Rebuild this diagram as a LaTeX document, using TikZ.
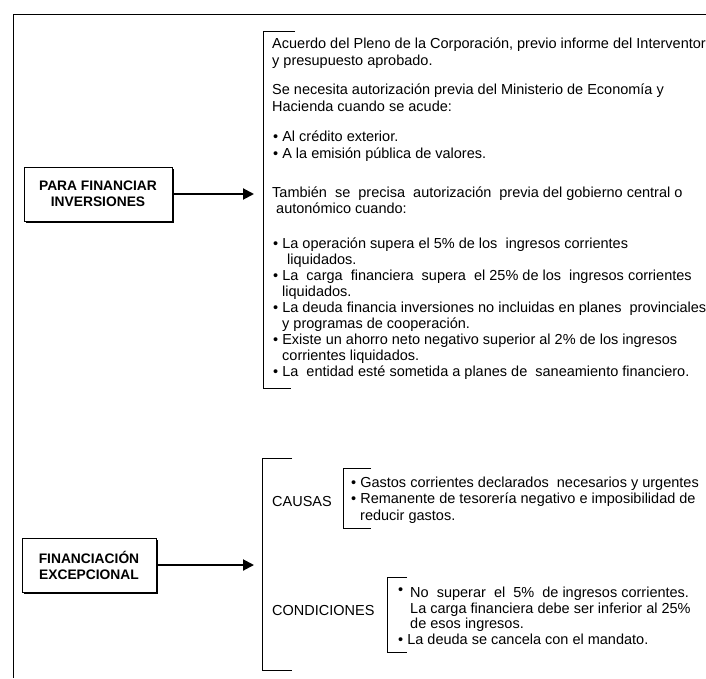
\documentclass[tikz,border=0pt]{standalone}
\usepackage{fontspec}
\setmainfont{Liberation Sans}
\usetikzlibrary{arrows.meta,shadows}
\newcommand\txf{\fontsize{14.5}{16}\selectfont}
\newcommand\bxf{\bfseries\fontsize{13.8}{16}\selectfont}
\newcommand\bul{\textbullet\ }
\tikzset{
  ln/.style={anchor=base west, inner sep=0pt, font=\txf},
  lbox/.style={draw, fill=white, line width=0.8pt, font=\bxf, align=center,
    minimum height=54pt, drop shadow={shadow xshift=1.6pt, shadow yshift=-1.6pt, opacity=1, fill=black}},
  arr/.style={line width=2pt, -{Triangle[length=11pt,width=11pt]}},
  brk/.style={line width=0.8pt},
  frm/.style={line width=0.9pt}
}
\begin{document}
\begin{tikzpicture}[x=1pt,y=-1pt]
\useasboundingbox (0,0) rectangle (706,678);
% outer frame
\draw[frm] (706,14) -- (13,14) -- (13,678);

% boxes
\node[lbox, minimum width=148pt] (b1) at (98,194) {PARA FINANCIAR\\INVERSIONES};
\node[lbox, minimum width=134pt] (b2) at (89,565) {FINANCIACIÓN\\EXCEPCIONAL};
\coordinate (t1) at (254,194);
\coordinate (t2) at (254,565);
\draw[arr] (b1.east) -- (t1);
\draw[arr] (b2.east) -- (t2);

% bracket 1
\draw[brk] (295,31.5) -- (263,31.5) -- (263,388) -- (291,388);
\node[ln] (l1) at (272,48.5) {Acuerdo del Pleno de la Corporación, previo informe del Interventor};
\node[ln] (l2) at (272,65) {y presupuesto aprobado.};
\node[ln] (l3) at (272,94.5) {Se necesita autorización previa del Ministerio de Economía y};
\node[ln] (l4) at (272,111) {Hacienda cuando se acude:};
\node[ln] (l5) at (273,141.5) {\bul Al crédito exterior.};
\node[ln] (l6) at (273,158) {\bul A la emisión pública de valores.};
\node[ln] (l7) at (272,197) {También\ \ se\ \ precisa\ \ autorización\ \ previa del gobierno central o};
\node[ln] (l8) at (276,213.5) {autonómico cuando:};
\node[ln] (l9) at (273,248) {\bul La operación supera el 5\% de los\ \ ingresos corrientes};
\node[ln] (l10) at (287,264) {liquidados.};
\node[ln] (l11) at (273,280) {\bul La\ \ carga\ \ financiera\ \ supera\ \ el 25\% de los\ \ ingresos corrientes};
\node[ln] (l12) at (282,296) {liquidados.};
\node[ln] (l13) at (273,312) {\bul La deuda financia inversiones no incluidas en planes\ \ provinciales};
\node[ln] (l14) at (282,328) {y programas de cooperación.};
\node[ln] (l15) at (273,344) {\bul Existe un ahorro neto negativo superior al 2\% de los ingresos};
\node[ln] (l16) at (282,360) {corrientes liquidados.};
\node[ln] (l17) at (273,376) {\bul La\ \ entidad esté sometida a planes de\ \ saneamiento financiero.};

% bracket 2
\draw[brk] (292,458) -- (262,458) -- (262,670) -- (292,670);
\node[ln] (ca) at (272,506) {CAUSAS};
\node[ln] (co) at (272,615) {CONDICIONES};

% causas bracket
\draw[brk] (371,468) -- (343,468) -- (343,528) -- (371,528);
\node[ln] (c1) at (351,487.5) {\bul Gastos corrientes declarados\ \ necesarios y urgentes};
\node[ln] (c2) at (351,503.5) {\bul Remanente de tesorería negativo e imposibilidad de};
\node[ln] (c3) at (360,520) {reducir gastos.};

% condiciones bracket
\draw[brk] (407,577) -- (387,577) -- (387,652) -- (407,652);
\node[ln] (d0) at (398,597.5) {\raisebox{3pt}{\textbullet}};
\node[ln] (d1) at (410,597.5) {No\ \ superar\ \ el\ \ 5\%\ \ de ingresos corrientes.};
\node[ln] (d2) at (410,613.5) {La carga financiera debe ser inferior al 25\%};
\node[ln] (d3) at (410,628.5) {de esos ingresos.};
\node[ln] (d4) at (398,644.5) {\bul La deuda se cancela con el mandato.};
\end{tikzpicture}
\end{document}
